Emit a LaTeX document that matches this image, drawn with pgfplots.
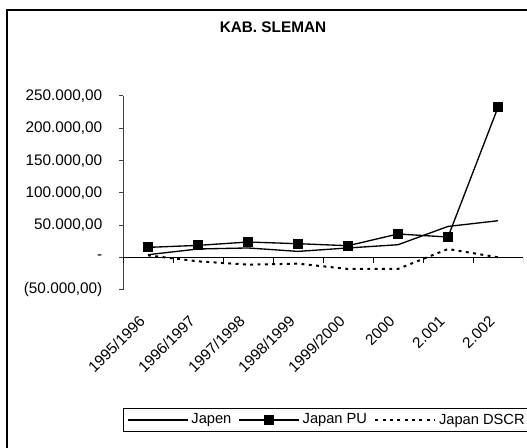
\documentclass[border=0pt]{standalone}
\usepackage{fontspec}
\setmainfont{Liberation Sans}
\usepackage{pgfplots}
\pgfplotsset{compat=1.18}
\newcommand\lbl{\fontsize{11}{13}\selectfont}
\newcommand\tck{\fontsize{11.5}{14}\selectfont}

\begin{document}
\begin{tikzpicture}[font=\lbl]
% picture is 527x448 px, 1px = 0.75pt, origin = lower left of plot area
\useasboundingbox (-92.25pt,-118.5pt) rectangle (303pt,217.5pt);
\clip (-92.25pt,-118.5pt) rectangle (303pt,217.5pt);
\draw[line width=1.5pt] (-87pt,210pt) rectangle (330pt,-140pt);

\begin{axis}[
    scale only axis,
    width=300pt, height=145.5pt,
    xmin=-0.5, xmax=7.5,
    ymin=-50000, ymax=250000,
    axis x line*=bottom, axis y line*=left,
    x axis line style={draw=none},
    y axis line style={black!75, line width=0.75pt},
    tick align=outside,
    major tick length=3pt,
    xtick={0,...,7},
    xticklabels={1995/1996,1996/1997,1997/1998,1998/1999,1999/2000,2000,{2.001},{2.002}},
    xtick style={draw=none},
    ytick={-50000,0,50000,100000,150000,200000,250000},
    yticklabels={{(50.000,00)},{-},{50.000,00},{100.000,00},{150.000,00},{200.000,00},{250.000,00}},
    ytick style={black!75, line width=0.75pt},
    scaled y ticks=false,
    tick label style={font=\tck},
    xticklabel style={font=\tck, xshift=-2pt, yshift=-16pt, rotate=45, anchor=east},
    yticklabel style={font=\tck, xshift=-9pt},
    title={KAB. SLEMAN},
    title style={font=\bfseries\fontsize{11.5}{13}\selectfont, at={(axis description cs:0.375,1)}, anchor=center, yshift=45.75pt},
    legend style={at={(axis description cs:0,0)}, anchor=north west, yshift=-88.5pt,
        draw=black, line width=0.75pt, font=\lbl,
        /tikz/every even column/.append style={column sep=3.5pt}},
    legend columns=3,
    legend cell align=left,
    legend image code/.code={\draw[mark repeat=2,mark phase=2,#1] plot coordinates {(0cm,0cm) (0.79cm,0cm) (1.58cm,0cm)};},
]

% zero line with category ticks
\draw[line width=0.75pt] (axis cs:-0.5,0) -- (axis cs:7.5,0);
\pgfplotsinvokeforeach{-0.5,0.5,1.5,2.5,3.5,4.5,5.5,6.5,7.5}{
  \draw[line width=0.75pt] (axis cs:#1,0) -- ++(0pt,-3.75pt);
}

\addplot[black, line width=1pt, mark=none] coordinates {
  (0,4600) (1,13400) (2,15000) (3,9700) (4,15000) (5,20000) (6,48300) (7,57100)
};
\addlegendentry{Japen}

\addplot[black, line width=1pt, mark=square*, mark size=3.2pt] coordinates {
  (0,15900) (1,19000) (2,24200) (3,21600) (4,18500) (5,36600) (6,31900) (7,232500)
};
\addlegendentry{Japan PU}

\addplot[black, line width=1.5pt, dash pattern=on 2.2pt off 3.3pt, mark=none] coordinates {
  (0,3600) (1,-5700) (2,-10800) (3,-9300) (4,-17400) (5,-17400) (6,13400) (7,500)
};
\addlegendentry{Japan DSCR}

\end{axis}
\end{tikzpicture}
\end{document}
